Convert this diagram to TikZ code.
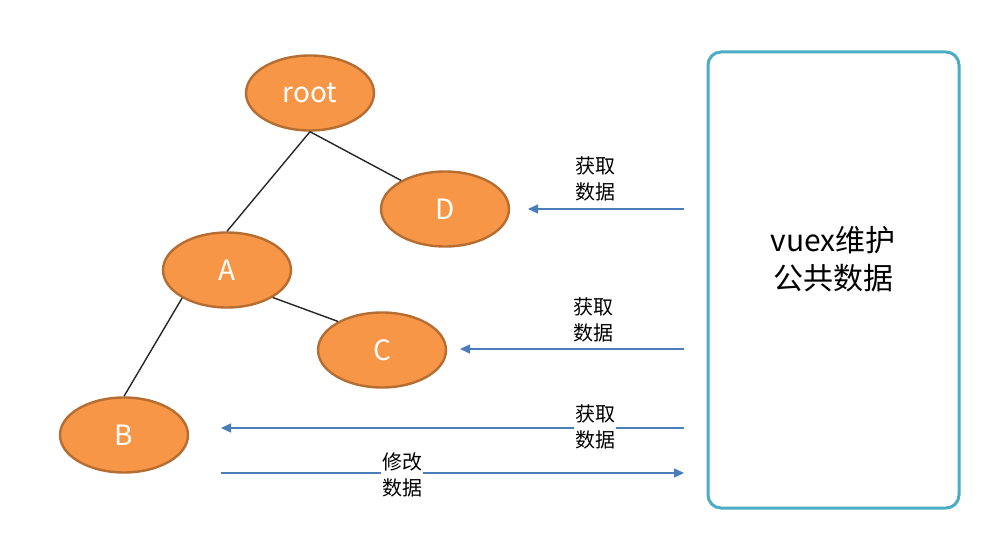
\documentclass[tikz,border=0pt]{standalone}
\usepackage{fontspec}
\setmainfont{Noto Sans CJK SC}
\usetikzlibrary{shapes.geometric,arrows.meta}
\definecolor{orfill}{HTML}{F79646}
\definecolor{ordraw}{HTML}{B66D31}
\definecolor{arrblue}{HTML}{4A7EBB}
\definecolor{boxteal}{HTML}{4BACC6}
\tikzset{
  treenode/.style={ellipse, draw=ordraw, line width=2.4pt, fill=orfill, minimum width=128pt, minimum height=75pt, inner sep=0pt, text=white, font=\fontsize{28}{32}\selectfont},
  edge/.style={draw=black!85, line width=1.4pt},
  flow/.style={draw=arrblue, line width=1.3pt, -{Triangle[length=10pt,width=9pt]}},
  lbl/.style={align=center, inner sep=1pt, font=\fontsize{20}{26}\selectfont},
  store/.style={draw=boxteal, line width=3pt, rounded corners=13pt}
}
\begin{document}
\begin{tikzpicture}[x=1pt,y=-1pt]
\useasboundingbox (0,0) rectangle (1004,537);
\node[treenode] (root) at (310,93) {root};
\node[treenode] (D) at (445,209) {D};
\node[treenode] (A) at (227,270) {A};
\node[treenode] (C) at (382,350) {C};
\node[treenode] (B) at (124,435) {B};
\draw[edge] (root.south) -- (A.north);
\draw[edge] (root.south) -- (D.147);
\draw[edge] (A.-148) -- (B.north);
\draw[edge] (A.-31) -- (C.147);
\node[store, minimum width=251pt, minimum height=456pt] (vx) at (833.5,280) {};
\node[align=center, font=\fontsize{30}{38}\selectfont] (vxt) at (833,259) {vuex维护\\公共数据};
\coordinate (s1) at (684,209);
\coordinate (t1) at (528,209);
\coordinate (s2) at (684,349);
\coordinate (t2) at (460,349);
\coordinate (s3) at (684,428);
\coordinate (t3) at (221,428);
\coordinate (s4) at (221,473);
\coordinate (t4) at (684,473);
\draw[flow] (s1) -- (t1);
\draw[flow] (s2) -- (t2);
\draw[flow] (s3) -- (t3);
\draw[flow] (s4) -- (t4);
\node[lbl] (l1) at (595,179) {获取\\数据};
\node[lbl] (l2) at (593,320) {获取\\数据};
\node[lbl, fill=white] (l3) at (595,427) {获取\\数据};
\node[lbl, fill=white] (l4) at (402,475) {修改\\数据};
\end{tikzpicture}
\end{document}
